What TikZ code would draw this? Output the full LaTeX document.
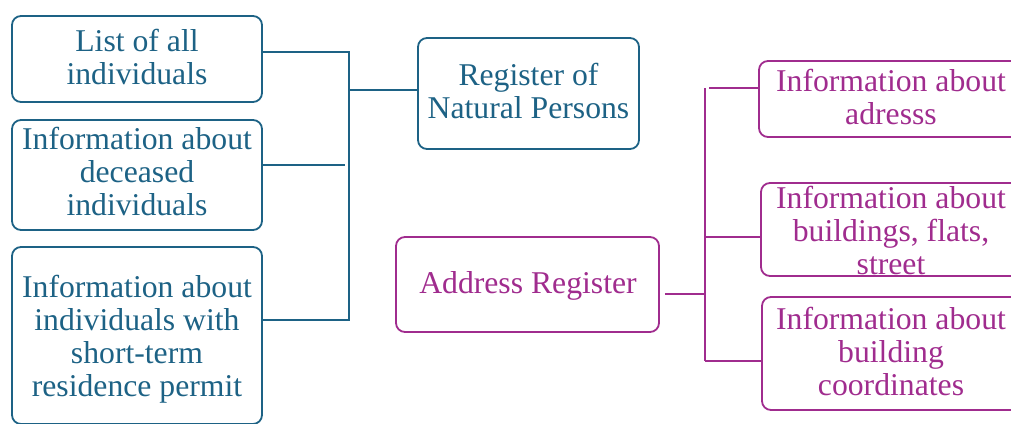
\documentclass[tikz,border=0pt]{standalone}
\usepackage{fontspec}
\setmainfont{Liberation Serif}
\usepackage{tikz}
\usetikzlibrary{calc}
\definecolor{regblue}{RGB}{29,98,133}
\definecolor{regpink}{RGB}{160,44,142}
\tikzset{regbox/.style = {draw, rounded corners=9pt, line width=1.8pt, inner sep=0pt},
  regtext/.style = {align=center, inner sep=0pt, font=\fontsize{31.7}{33}\selectfont},
  regline/.style = {line width=1.3pt}
}

\begin{document}
\begin{tikzpicture}[x=1pt,y=-1pt]
  \clip (0,0) rectangle (1011,423);

  % natural persons
  \node[regbox, regblue, minimum width=250pt, minimum height=86pt] (lst) at (137,59) {};
  \node[regbox, regblue, minimum width=250pt, minimum height=110pt] (dec) at (137,175) {};
  \node[regbox, regblue, minimum width=250pt, minimum height=177pt] (tmp) at (137,335.5) {};
  \node[regbox, regblue, minimum width=221pt, minimum height=111pt] (reg) at (528.5,93.5) {};

  \node[regtext, regblue] (lsttxt) at (137,57) {List of all\\individuals};
  \node[regtext, regblue] (dectxt) at (137,171.5) {Information about\\deceased\\individuals};
  \node[regtext, regblue] (tmptxt) at (137,339.5) {Information about\\individuals with\\short-term\\residence permit};
  \node[regtext, regblue] (regtxt) at (528.5,91) {Register of\\Natural Persons};

  \coordinate (ltop) at (349,52);
  \coordinate (lmid) at (349,90);
  \coordinate (lbot) at (349,320);
  \draw[regline, regblue] (lst.east |- ltop) -- (ltop) -- (lbot) -- (tmp.east |- lbot);
  \draw[regline, regblue] (dec.east |- 0,165) -- (345,165);
  \draw[regline, regblue] (lmid) -- (reg.west |- lmid);

  % address register
  \node[regbox, regpink, minimum width=263pt, minimum height=95pt] (addr) at (527.5,284.5) {};
  \node[regbox, regpink, minimum width=264pt, minimum height=76pt] (adrs) at (891,99) {};
  \node[regbox, regpink, minimum width=264pt, minimum height=93pt] (flat) at (893,229.5) {};
  \node[regbox, regpink, minimum width=264pt, minimum height=113pt] (crd) at (894,353.5) {};

  \node[regtext, regpink] (addrtxt) at (528,286) {Address Register};
  \node[regtext, regpink] (adrstxt) at (891,96.5) {Information about\\adresss};
  \node[regtext, regpink] (flattxt) at (891,230) {Information about\\buildings, flats,\\street};
  \node[regtext, regpink] (crdtxt) at (891,351) {Information about\\building\\coordinates};

  \coordinate (rtop) at (705,88);
  \coordinate (rjoin) at (705,294);
  \coordinate (rmid) at (705,237);
  \coordinate (rbot) at (705,361);
  \draw[regline, regpink] (rtop) -- (rbot);
  \draw[regline, regpink] ($(addr.east |- rjoin)+(5,0)$) -- (rjoin);
  \draw[regline, regpink] ($(rtop)+(4,0)$) -- (adrs.west |- rtop);
  \draw[regline, regpink] (rmid) -- (flat.west |- rmid);
  \draw[regline, regpink] (rbot) -- (crd.west |- rbot);
\end{tikzpicture}
\end{document}
